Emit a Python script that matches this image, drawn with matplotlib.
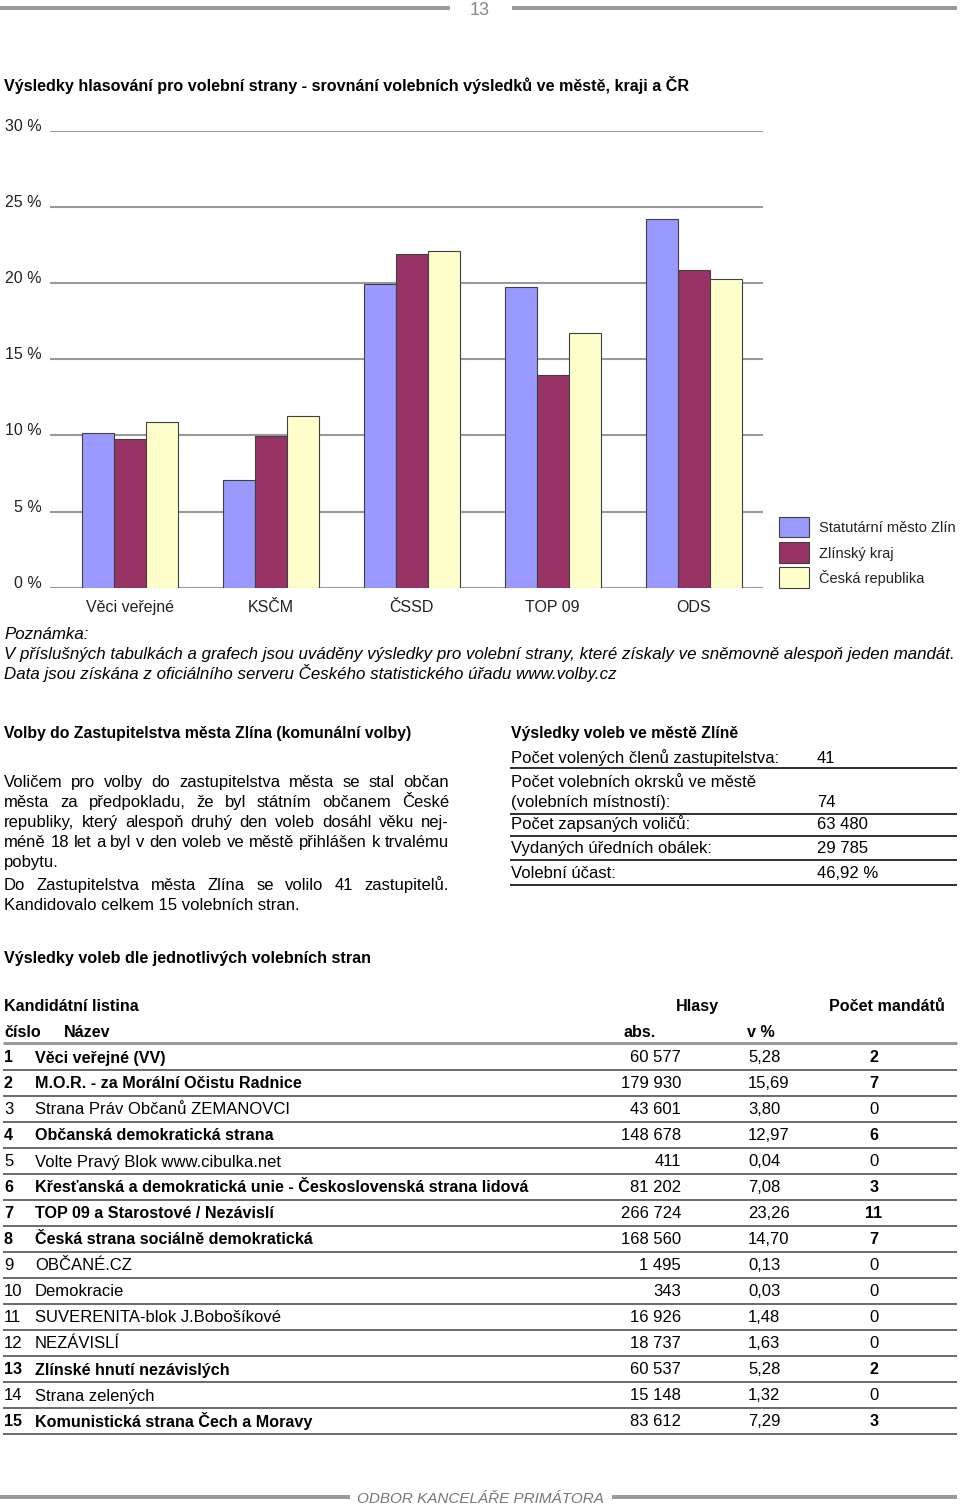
import numpy as np
import matplotlib
matplotlib.use('Agg')
import matplotlib.pyplot as plt
from matplotlib.patches import Rectangle

# Chart data (read from the page)
parties = ['Věci veřejné', 'KSČM', 'ČSSD', 'TOP 09', 'ODS']
series_names = ['Statutární město Zlín', 'Zlínský kraj', 'Česká republika']
city = [10.16, 7.05, 19.94, 19.74, 24.23]
region = [9.74, 9.98, 21.93, 13.95, 20.84]
czech = [10.86, 11.25, 22.10, 16.72, 20.25]
yticks = [0, 5, 10, 15, 20, 25, 30]

# City info box
info_labels = ['Počet volených členů zastupitelstva:',
               'Počet volebních okrsků ve městě\n(volebních místností):',
               'Počet zapsaných voličů:',
               'Vydaných úředních obálek:',
               'Volební účast:']
info_values = ['41', '74', '63 480', '29 785', '46,92 %']

# Results per party
cislo = list(range(1, 16))
nazev = ['Věci veřejné (VV)',
         'M.O.R. - za Morální Očistu Radnice',
         'Strana Práv Občanů ZEMANOVCI',
         'Občanská demokratická strana',
         'Volte Pravý Blok www.cibulka.net',
         'Křesťanská a demokratická unie - Československá strana lidová',
         'TOP 09 a Starostové / Nezávislí',
         'Česká strana sociálně demokratická',
         'OBČANÉ.CZ',
         'Demokracie',
         'SUVERENITA-blok J.Bobošíkové',
         'NEZÁVISLÍ',
         'Zlínské hnutí nezávislých',
         'Strana zelených',
         'Komunistická strana Čech a Moravy']
hlasy_abs = [60577, 179930, 43601, 148678, 411, 81202, 266724, 168560,
             1495, 343, 16926, 18737, 60537, 15148, 83612]
hlasy_pct = [5.28, 15.69, 3.80, 12.97, 0.04, 7.08, 23.26, 14.70,
             0.13, 0.03, 1.48, 1.63, 5.28, 1.32, 7.29]
mandaty = [2, 7, 0, 6, 0, 3, 11, 7, 0, 0, 0, 0, 2, 0, 3]

paragraph = [('Voličem pro volby do zastupitelstva města se stal občan', True),
             ('města za předpokladu, že byl státním občanem České', True),
             ('republiky, který alespoň druhý den voleb dosáhl věku nej-', True),
             ('méně 18 let a byl v den voleb ve městě přihlášen k trvalému', True),
             ('pobytu.', False),
             ('Do Zastupitelstva města Zlína se volilo 41 zastupitelů.', True),
             ('Kandidovalo celkem 15 volebních stran.', False)]

plt.rcParams['font.family'] = ['Liberation Sans', 'DejaVu Sans']
NARROW = ['Liberation Sans Narrow', 'Liberation Sans', 'DejaVu Sans']
colors = ['#9999FF', '#993366', '#FFFFCC']
GREY = '#9a9a9a'
HEAD = 11.6   # condensed bold headings
NOTE = 12.2   # italic note

fig = plt.figure(figsize=(9.6, 15.06), dpi=100)

# page layer in pixel coordinates
page = fig.add_axes([0, 0, 1, 1])
page.set_xlim(0, 960)
page.set_ylim(1506, 0)
page.axis('off')


def hline(y, x0, x1, color, px):
    page.plot([x0, x1], [y, y], color=color, lw=px * 0.72, solid_capstyle='butt')


def txt(x, y, s, size, **kw):
    return page.text(x, y, s, fontsize=size, va='baseline', **kw)


# header / footer
hline(8, 0, 450, GREY, 4)
hline(8, 512, 957, GREY, 4)
txt(480, 15, '13', 13, ha='center', color='#888888', family=NARROW)
hline(1497, 0, 350, GREY, 4)
hline(1497, 612, 957, GREY, 4)
txt(480, 1503, 'ODBOR KANCELÁŘE PRIMÁTORA', 11, ha='center', color='#777777',
    family=NARROW, style='italic')

# chart
txt(4, 91, 'Výsledky hlasování pro volební strany - srovnání volebních výsledků ve městě, kraji a ČR',
    HEAD, family=NARROW, weight='bold')

ax = fig.add_axes([50 / 960, 1 - 587.7 / 1506, 713 / 960, 457 / 1506])
x = np.arange(len(parties))
w = 0.227
for k, vals in enumerate([city, region, czech]):
    ax.bar(x + (k - 1) * w, vals, w, color=colors[k], edgecolor='#404040',
           linewidth=0.8, label=series_names[k], zorder=3)
ax.set_xlim(-0.568, 4.493)
ax.set_ylim(0, 30)
ax.set_xticks(x, parties)
ax.set_yticks(yticks, [f'{t} %' for t in yticks])
ax.tick_params(axis='y', length=0, pad=6, labelsize=11.5, labelcolor='#222222')
ax.tick_params(axis='x', length=0, pad=9.2, labelsize=11.5, labelcolor='#222222')
for lab in ax.get_yticklabels():
    lab.set_verticalalignment('baseline')
ax.yaxis.grid(True, color=GREY, lw=1.5)
ax.set_axisbelow(True)
for s in ax.spines.values():
    s.set_visible(False)
ax.patch.set_alpha(0)

# legend, drawn by hand at its place beside the plot
for k, name in enumerate(series_names):
    top = 516.7 + 25.3 * k
    page.add_patch(Rectangle((779, top), 30, 20.5, facecolor=colors[k],
                             edgecolor='#404040', lw=0.8))
    txt(819, top + 15.5, name, 10.5, color='#222222')

# note
txt(4, 639, 'Poznámka:', NOTE, family=NARROW, style='italic')
txt(4, 659, 'V příslušných tabulkách a grafech jsou uváděny výsledky pro volební strany, '
    'které získaly ve sněmovně alespoň jeden mandát.', NOTE, family=NARROW, style='italic')
txt(4, 679, 'Data jsou získána z oficiálního serveru Českého statistického úřadu www.volby.cz',
    NOTE, family=NARROW, style='italic')

# left text block
txt(4, 738, 'Volby do Zastupitelstva města Zlína (komunální volby)', 11.3, weight='bold')
renderer = fig.canvas.get_renderer()
baselines = [786.7, 806.7, 826.7, 846.7, 866.7, 890, 910]
for (line, just), yb in zip(paragraph, baselines):
    if not just:
        txt(4, yb, line, 12)
        continue
    words = line.split(' ')
    objs = [txt(4, yb, wd, 12) for wd in words]
    widths = [o.get_window_extent(renderer).width for o in objs]
    gap = (449 - 4 - sum(widths)) / (len(words) - 1)
    xpos = 4
    for o, wd in zip(objs, widths):
        o.set_x(xpos)
        xpos += wd + gap

# right info box
txt(511, 738.3, 'Výsledky voleb ve městě Zlíně', 11.3, weight='bold')
info_base = [762.6, 806.7, 829.3, 853.3, 877.7]
info_lines = [768, 813.7, 835.7, 860, 885]
for lab, val, yb, yl in zip(info_labels, info_values, info_base, info_lines):
    parts = lab.split('\n')
    for j, p in enumerate(parts):
        txt(511, yb - 20 * (len(parts) - 1 - j), p, 12)
    txt(817, yb, val, 12)
    hline(yl, 510, 957, '#333333', 2)

# results table
txt(4, 963, 'Výsledky voleb dle jednotlivých volebních stran', HEAD, family=NARROW, weight='bold')
txt(4, 1011, 'Kandidátní listina', HEAD, family=NARROW, weight='bold')
txt(697, 1011, 'Hlasy', HEAD, family=NARROW, weight='bold', ha='center')
txt(887, 1011, 'Počet mandátů', HEAD, family=NARROW, weight='bold', ha='center')
txt(4, 1037, 'číslo', HEAD, family=NARROW, weight='bold')
txt(64, 1037, 'Název', HEAD, family=NARROW, weight='bold')
txt(624, 1037, 'abs.', HEAD, family=NARROW, weight='bold')
txt(747, 1037, 'v %', HEAD, family=NARROW, weight='bold')
hline(1043, 3, 957, GREY, 3)

for i in range(len(cislo)):
    yb = 1062.5 + 26 * i
    bold = mandaty[i] > 0
    wt = 'bold' if bold else 'normal'
    sz = 11.6 if bold else 12
    txt(4, yb, str(cislo[i]), sz, weight=wt)
    txt(35, yb, nazev[i], sz, weight=wt)
    txt(681, yb, f'{hlasy_abs[i]:,}'.replace(',', ' '), 12, ha='right')
    txt(748, yb, f'{hlasy_pct[i]:.2f}'.replace('.', ','), 12)
    txt(874, yb, str(mandaty[i]), sz, ha='center', weight=wt)
    hline(1070 + 26 * i, 3, 957, '#555555', 1.7)

fig.savefig('out.png', dpi=100)
